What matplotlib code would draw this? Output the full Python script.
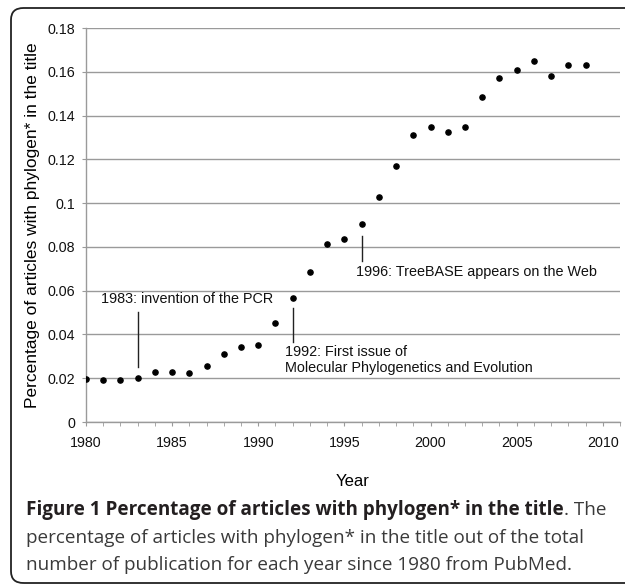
import matplotlib
matplotlib.use("Agg")
import matplotlib.pyplot as plt
from matplotlib.patches import FancyBboxPatch
from matplotlib.ticker import MultipleLocator

years = list(range(1980, 2010))
share = [0.0198, 0.0192, 0.0192, 0.0199, 0.0229, 0.0230, 0.0222, 0.0256, 0.0312, 0.0343,
         0.0353, 0.0452, 0.0567, 0.0685, 0.0813, 0.0836, 0.0905, 0.1028, 0.1170, 0.1310,
         0.1350, 0.1325, 0.1350, 0.1485, 0.1570, 0.1610, 0.1650, 0.1580, 0.1630, 0.1630]

# annotations: year of the line, line bottom/top, text x, text y, text
events = [
    (1983, 0.0253, 0.0504, 1980.85, 0.0562, "1983: invention of the PCR"),
    (1992, 0.0367, 0.0521, 1991.55, 0.0282, "1992: First issue of\nMolecular Phylogenetics and Evolution"),
    (1996, 0.0736, 0.0850, 1995.7, 0.0686, "1996: TreeBASE appears on the Web"),
]

plt.rcParams['font.family'] = ['Liberation Sans', 'DejaVu Sans']

fig = plt.figure(figsize=(6.25, 5.85), dpi=100)

# rounded frame of the figure box (right side cut off)
frame = FancyBboxPatch((11 / 625, 2 / 585), 1.2, 575 / 585,
                       boxstyle="round,pad=0,rounding_size=0.02",
                       transform=fig.transFigure, fill=False,
                       edgecolor="#222222", linewidth=1.3)
fig.patches.append(frame)

ax = fig.add_axes([86 / 625, 1 - 422 / 585, 534 / 625, 394 / 585])
ax.scatter(years, share, s=14, color="black", zorder=3)

ax.set_xlim(1980, 2011)
ax.set_ylim(0, 0.18)
ax.xaxis.set_major_locator(MultipleLocator(5))
ax.xaxis.set_minor_locator(MultipleLocator(1))
ax.set_xticks(range(1980, 2011, 5))
ax.set_yticks([i * 0.02 for i in range(10)])
ax.set_yticklabels(["0", "0.02", "0.04", "0.06", "0.08", "0.1",
                    "0.12", "0.14", "0.16", "0.18"])

ax.grid(axis="y", color="#9a9a9a", linewidth=1.0)
ax.set_axisbelow(True)
for side in ["top", "right"]:
    ax.spines[side].set_visible(False)
for side in ["left", "bottom"]:
    ax.spines[side].set_color("#9a9a9a")
    ax.spines[side].set_linewidth(1.0)
ax.tick_params(axis="both", which="both", color="#9a9a9a", labelsize=10.3,
               labelcolor="#111111")
ax.tick_params(axis="x", which="both", length=3, pad=7)
ax.tick_params(axis="y", length=3, pad=5)

ax.set_xlabel("Year", fontsize=12, labelpad=17)
ax.set_ylabel("Percentage of articles with phylogen* in the title", fontsize=12.5, labelpad=5)

for yr, y0, y1, tx, ty, label in events:
    ax.plot([yr, yr], [y0, y1], color="#222222", linewidth=1.0)
    ax.text(tx, ty, label, fontsize=10.4, ha="left", va="center",
            color="#111111", linespacing=1.2)

# caption under the chart
cap_bold = "Figure 1 Percentage of articles with phylogen* in the title"
cap_font = ['Open Sans', 'DejaVu Sans']
cap_size = 13.6
t1 = fig.text(26 / 625, 1 - 510 / 585, cap_bold, fontsize=cap_size, fontweight="bold",
              family=cap_font, color="#231f20", va="center")
fig.canvas.draw()
bb = t1.get_window_extent()
fig.text(bb.x1 / 625, 1 - 510 / 585, ". The", fontsize=cap_size, family=cap_font,
         color="#3a3a3a", va="center")
fig.text(26 / 625, 1 - 538 / 585,
         "percentage of articles with phylogen* in the title out of the total",
         fontsize=cap_size, family=cap_font, color="#3a3a3a", va="center")
fig.text(26 / 625, 1 - 565 / 585,
         "number of publication for each year since 1980 from PubMed.",
         fontsize=cap_size, family=cap_font, color="#3a3a3a", va="center")

fig.savefig("out.png", dpi=100)
